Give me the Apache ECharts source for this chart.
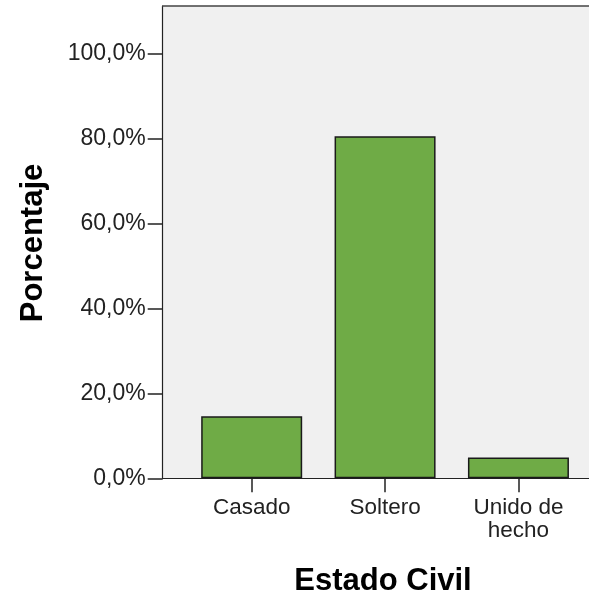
<!DOCTYPE html>
<html>
<head>
<meta charset="utf-8">
<script src="https://cdn.jsdelivr.net/npm/echarts@6/dist/echarts.min.js"></script>
<style>html,body{margin:0;padding:0;background:#fff}#c{width:589px;height:600px}</style>
</head>
<body>
<div id="c"></div>
<script>
const categories = ['Casado', 'Soltero', 'Unido de\nhecho'];
const percentages = [14.6, 80.5, 4.9];
const yTickValues = [0, 20, 40, 60, 80, 100];
const xAxisTitle = 'Estado Civil';
const yAxisTitle = 'Porcentaje';

const chart = echarts.init(document.getElementById('c'), null, {renderer: 'canvas'});
const font = 'Liberation Sans, Arial, sans-serif';
const dark = '#222';

chart.setOption({
  animation: false,
  backgroundColor: '#ffffff',
  grid: {
    left: 162.7, top: 6, right: 0, height: 472.3,
    show: true, backgroundColor: '#f0f0f0', borderWidth: 0
  },
  xAxis: [{
    type: 'value', min: -0.6672, max: 2.529,
    splitLine: {show: false},
    axisLine: {show: true, onZero: false, lineStyle: {color: dark, width: 1.2}},
    axisTick: {show: true, customValues: [0, 1, 2], length: 14, lineStyle: {color: dark, width: 1.5}},
    axisLabel: {
      customValues: [0, 1, 2], margin: 18,
      formatter: v => categories[Math.round(v)] || '',
      fontFamily: font, fontSize: 22.5, color: '#222', lineHeight: 23
    }
  }, {
    type: 'value', position: 'top', min: -0.6672, max: 2.529,
    splitLine: {show: false},
    axisLine: {show: true, onZero: false, lineStyle: {color: '#444', width: 1.5}},
    axisTick: {show: false}, axisLabel: {show: false}
  }],
  yAxis: {
    type: 'value', min: 0, max: 111.13,
    splitLine: {show: false},
    axisLine: {show: true, onZero: false, lineStyle: {color: dark, width: 1.2}},
    axisTick: {show: true, customValues: yTickValues, length: 15, lineStyle: {color: dark, width: 1.5}},
    axisLabel: {
      customValues: yTickValues, margin: 17,
      formatter: v => v.toFixed(1).replace('.', ',') + '%',
      fontFamily: font, fontSize: 23, color: '#222'
    }
  },
  series: [{
    type: 'bar',
    xAxisIndex: 0,
    data: percentages.map((v, i) => [i, v]),
    barWidth: 101,
    itemStyle: {color: '#6fab46', borderColor: '#1a1a1a', borderWidth: 1.5}
  }],
  graphic: [
    {type: 'text', x: 383, y: 581, style: {text: xAxisTitle, font: 'bold 31px ' + font, fill: '#000', align: 'center', verticalAlign: 'middle'}},
    {type: 'text', x: 33, y: 243, rotation: Math.PI / 2, style: {text: yAxisTitle, font: 'bold 31px ' + font, fill: '#000', align: 'center', verticalAlign: 'middle'}}
  ]
});
</script>
</body>
</html>
